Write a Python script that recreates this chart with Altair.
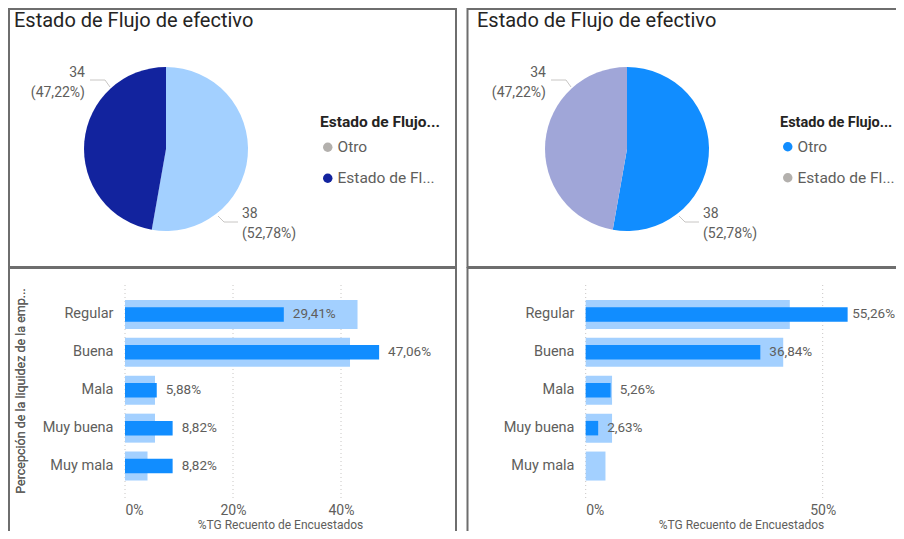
import altair as alt
import pandas as pd

# ---------------- data ----------------
pie_cats = ["Otro", "Estado de Flujo de efectivo"]
pie_counts = [38, 34]
pie_pcts = [52.78, 47.22]

bar_cats = ["Regular", "Buena", "Mala", "Muy buena", "Muy mala"]
total_pct = [43.06, 41.67, 5.56, 5.56, 4.17]        # pale (overall) bars
left_sel_pct = [29.41, 47.06, 5.88, 8.82, 8.82]     # highlighted, left panel
right_sel_pct = [55.26, 36.84, 5.26, 2.63, 0.0]     # highlighted, right panel
left_ticks = [0, 20, 40]
right_ticks = [0, 50]

# ---------------- styling ----------------
FONT = "Roboto"
TXT = "#605E5C"
DARK = "#252423"
BORDER = "#6E6E6E"
NAVY = "#12239E"
BLUE = "#118DFF"
PALE_BLUE = "#A3D0FF"
PALE_NAVY = "#A0A6D8"
LEG_GRAY = "#B3B0AD"
GRID = "#C8C6C4"
LEADER = "#C8C6C4"

W, H = 888, 523

one = alt.Data(values=[{}])


def box(x, x2, y, y2):
    return alt.Chart(one).mark_rect(fillOpacity=0, stroke=BORDER, strokeWidth=2).encode(
        x=alt.value(x), x2=alt.value(x2), y=alt.value(y), y2=alt.value(y2))


def seg(x, y, x2, y2):
    return alt.Chart(one).mark_rule(color=LEADER, strokeWidth=1).encode(
        x=alt.value(x), x2=alt.value(x2), y=alt.value(y), y2=alt.value(y2))


def title_text(x, y, s):
    return alt.Chart(one).mark_text(align="left", baseline="alphabetic", fontSize=20,
                                    font=FONT, color=DARK, text=s).encode(
        x=alt.value(x), y=alt.value(y))


pie_df = pd.DataFrame({"cat": pie_cats, "count": pie_counts, "pct": pie_pcts,
                       "ord": list(range(len(pie_cats)))})


def pie(cx, cy, colors):
    return alt.Chart(pie_df).mark_arc().encode(
        theta=alt.Theta("count:Q", stack=True),
        color=alt.Color("cat:N", scale=alt.Scale(domain=pie_cats, range=colors), legend=None),
        order=alt.Order("ord:Q"),
        x=alt.value(cx), y=alt.value(cy), radius=alt.value(82))


def pie_label(cat, x, y, align):
    return alt.Chart(pie_df).transform_filter(
        alt.datum.cat == cat
    ).transform_calculate(
        lbl="datum.count + '\\n(' + replace(format(datum.pct / 100, '.2%'), '.', ',') + ')'"
    ).mark_text(align=align, baseline="middle", lineBreak="\n", lineHeight=19.5,
                fontSize=14, font=FONT, color=TXT).encode(
        x=alt.value(x), y=alt.value(y), text="lbl:N")


def legend_layer(lx, ly, colors, title_size):
    return alt.Chart(pd.DataFrame({"cat": pie_cats})).mark_point(
        filled=True, opacity=1, shape="circle").encode(
        x=alt.value(-200), y=alt.value(-200),
        color=alt.Color("cat:N", scale=alt.Scale(domain=pie_cats, range=colors),
                        legend=alt.Legend(
                            orient="none", legendX=lx, legendY=ly, padding=0,
                            title="Estado de Flujo...", titleFontSize=title_size,
                            titleFont=FONT, titleFontWeight="bold", titleColor=DARK,
                            titlePadding=9, labelFontSize=15.5, labelFont=FONT,
                            labelColor=TXT, labelOffset=2, rowPadding=14,
                            symbolType="circle", symbolSize=90, symbolStrokeWidth=0,
                            labelExpr="length(datum.label) > 12 ? slice(datum.label, 0, 12) + '...' : datum.label")))


def bar_panel(sel, ticks, x0, px_per_pct, ylab_x, xtitle_x):
    df = pd.DataFrame({"cat": bar_cats,
                       "total": [v / 100 for v in total_pct],
                       "sel": [v / 100 for v in sel]})
    tick_df = pd.DataFrame({"v": [t / 100 for t in ticks]})
    xs = alt.Scale(domain=[0, 0.6], range=[x0, x0 + px_per_pct * 60], nice=False, zero=True)
    ys = alt.Scale(domain=bar_cats, range=[287.5, 477], paddingInner=0.235, paddingOuter=0.1175)
    xaxis = alt.Axis(orient="bottom", offset=-(H - 495), values=[t / 100 for t in ticks],
                     format=".0%", grid=False, domain=False, ticks=False, tickSize=0,
                     labelPadding=0, labelFontSize=14, labelFont=FONT, labelColor=TXT,
                     title="%TG Recuento de Encuestados", titleFont=FONT, titleFontSize=12,
                     titleFontWeight="normal", titleColor=TXT, titleX=xtitle_x, titleY=21.5,
                     titleAlign="center", titleBaseline="middle")
    yaxis = alt.Axis(orient="left", offset=-ylab_x, grid=False, domain=False, ticks=False,
                     tickSize=0, labelPadding=0, labelFontSize=14.5, labelFont=FONT,
                     labelColor=TXT, title="Percepción de la liquidez de la emp...",
                     titleFont=FONT, titleFontSize=12.5, titleFontWeight="normal",
                     titleColor=TXT, titleX=12 - ylab_x, titleY=382.5, titleAngle=270,
                     titleAlign="center", titleBaseline="middle")
    grid = alt.Chart(tick_df).mark_rule(color=GRID, strokeDash=[1, 3], strokeWidth=1).encode(
        x=alt.X("v:Q", scale=xs, axis=xaxis), y=alt.value(277), y2=alt.value(490))
    pale = alt.Chart(df).mark_bar(color=PALE_BLUE).encode(
        x=alt.X("total:Q", scale=xs, axis=xaxis),
        y=alt.Y("cat:N", scale=ys, axis=yaxis))
    dark = alt.Chart(df).mark_bar(color=BLUE, height={"band": 0.5}).encode(
        x=alt.X("sel:Q", scale=xs, axis=xaxis),
        y=alt.Y("cat:N", scale=ys, axis=yaxis))

    def label_layer(test, dx):
        return alt.Chart(df).transform_filter(test).transform_calculate(
            lbl="replace(format(datum.sel, '.2%'), '.', ',')"
        ).mark_text(align="left", baseline="middle", dx=dx, fontSize=13.5, font=FONT,
                    color=TXT).encode(
            x=alt.X("sel:Q", scale=xs, axis=xaxis),
            y=alt.Y("cat:N", scale=ys, axis=yaxis),
            text="lbl:N")

    # labels that would run past the panel edge are pulled in closer to the bar
    normal = label_layer("datum.sel > 0 && datum.sel < 0.5", 9)
    edge = label_layer("datum.sel >= 0.5", 4.5)
    return alt.layer(grid, pale, dark, normal, edge)


DX = 461  # horizontal shift of the right-hand pie panel

layers = [
    box(1, 448, 1, 259), box(459.5, 910, 1, 259),
    box(1, 448, 260, 545), box(459.5, 910, 260, 545),
    title_text(6, 19, "Estado de Flujo de efectivo"),
    title_text(469, 19, "Estado de Flujo de efectivo"),
    pie(158, 141, [PALE_BLUE, NAVY]),
    pie(158 + DX, 141, [BLUE, PALE_NAVY]),
    seg(82, 72, 97, 72), seg(97, 72, 102, 79),
    seg(210, 208, 216, 214), seg(216, 214, 230, 214),
    seg(82 + DX, 72, 97 + DX, 72), seg(97 + DX, 72, 102 + DX, 79),
    seg(210 + DX, 208, 216 + DX, 214), seg(216 + DX, 214, 230 + DX, 214),
    pie_label("Estado de Flujo de efectivo", 77, 65, "right"),
    pie_label("Otro", 234, 206, "left"),
    pie_label("Estado de Flujo de efectivo", 77 + DX, 65, "right"),
    pie_label("Otro", 234 + DX, 206, "left"),
    legend_layer(312, 107, [LEG_GRAY, NAVY], 15.5),
    legend_layer(772, 107.5, [BLUE, LEG_GRAY], 14.5),
    bar_panel(left_sel_pct, left_ticks, 117, 5.4, 105, 272),
    bar_panel(right_sel_pct, right_ticks, 577.7, 4.74, 566, 733),
]

chart = alt.layer(*layers).resolve_scale(
    x="independent", y="independent", color="independent", theta="independent"
).properties(
    width=W, height=H, autosize=alt.AutoSizeParams(type="none"), padding=0,
    background="white"
).configure_view(stroke=None).configure_text(font=FONT)

chart.save("out.html", embed_options={"renderer": "svg", "actions": False})
